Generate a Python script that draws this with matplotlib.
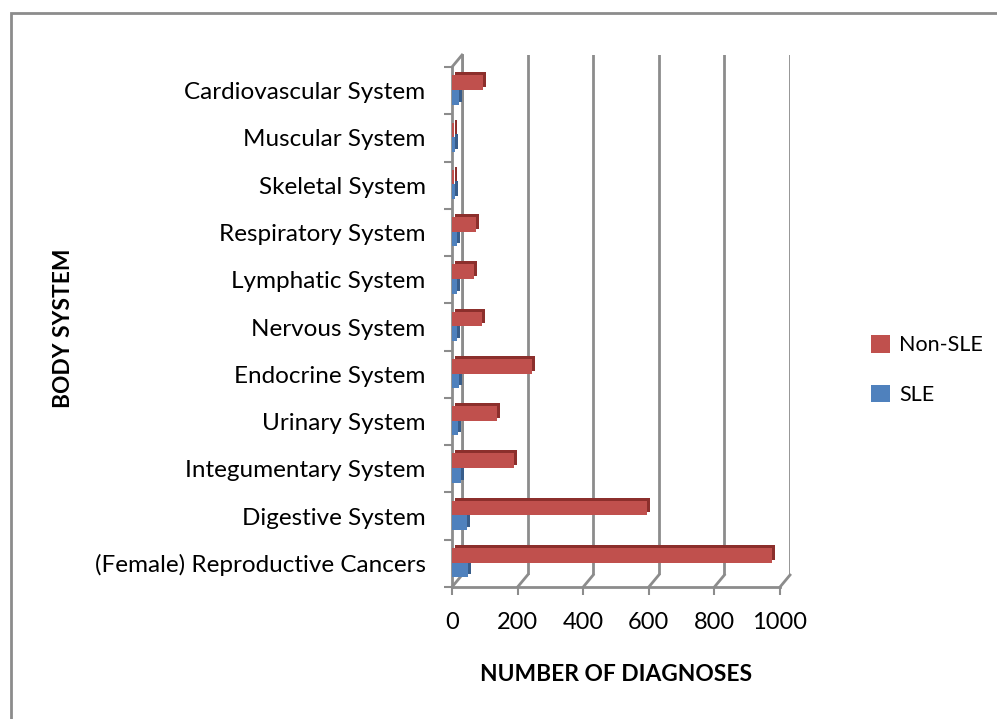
import matplotlib
matplotlib.use("Agg")
import matplotlib.pyplot as plt
import matplotlib.transforms as mtransforms
from matplotlib.patches import Rectangle
from matplotlib.lines import Line2D

categories = ["(Female) Reproductive Cancers", "Digestive System", "Integumentary System",
              "Urinary System", "Endocrine System", "Nervous System", "Lymphatic System",
              "Respiratory System", "Skeletal System", "Muscular System", "Cardiovascular System"]
non_sle = [975, 595, 190, 137, 244, 92, 67, 73, 5, 5, 95]
sle = [50, 45, 27, 18, 22, 15, 15, 15, 10, 10, 20]
xticks = [0, 200, 400, 600, 800, 1000]

FONT = "Lato"
W, H = 997, 719
fig = plt.figure(figsize=(W / 100, H / 100), dpi=100)

# outer chart border
fig.add_artist(Rectangle((11 / W, -0.05), 1.2, 1.05 - 13 / H, transform=fig.transFigure,
                         fill=False, ec="#8c8c8c", lw=2))

left, right, top, bottom = 452, 780, 67, 587
pos = [left / W, 1 - bottom / H, (right - left) / W, (bottom - top) / H]
dx, dy = 10, 12

# back wall with gridlines
axb = fig.add_axes([pos[0] + dx / W, pos[1] + dy / H, pos[2], pos[3]])
axb.set_xlim(0, 1000)
axb.set_ylim(0, 1)
for v in xticks:
    axb.axvline(v, color="#8c8c8c", lw=2)
for s in axb.spines.values():
    s.set_visible(False)
axb.set_xticks([]); axb.set_yticks([])
axb.patch.set_alpha(0)

ax = fig.add_axes(pos)
ax.patch.set_alpha(0)
n = len(categories)
ypos = list(range(n))
ax.set_xlim(0, 1000)
ax.set_ylim(-0.5, n - 0.5)

off = mtransforms.offset_copy(ax.transData, fig=fig, x=3, y=3, units="dots")
h = 0.31
y_red = [y + 0.17 for y in ypos]
y_blue = [y - 0.14 for y in ypos]
ax.barh(y_blue, sle, height=h, color="#385D8A", transform=off, zorder=2)
ax.barh(y_blue, sle, height=h, color="#4F81BD", zorder=3)
ax.barh(y_red, non_sle, height=h, color="#8C2F2C", transform=off, zorder=4)
ax.barh(y_red, non_sle, height=h, color="#C0504D", zorder=5, label="Non-SLE")
ax.bar([0], [0], color="#4F81BD", label="SLE")

ax.set_yticks([y - 0.5 for y in range(n + 1)], minor=False)
ax.set_yticklabels([])
ax.set_yticks(ypos, minor=True)
ax.set_yticklabels(categories, minor=True, fontsize=17.5, family=FONT)
ax.tick_params(axis="y", which="minor", length=0, pad=19)
ax.tick_params(axis="y", which="major", length=6, color="#8c8c8c", width=1.5)
ax.set_xticks(xticks)
ax.set_xticklabels([str(v) for v in xticks], fontsize=17, family=FONT)
ax.tick_params(axis="x", length=6, color="#8c8c8c", width=1.5, pad=12)
for s in ["top", "right"]:
    ax.spines[s].set_visible(False)
for s in ["left", "bottom"]:
    ax.spines[s].set_color("#8c8c8c")
    ax.spines[s].set_linewidth(2)

# depth lines connecting front axes to back wall
fig.canvas.draw()
inv = fig.transFigure.inverted()
def link(pt):
    a = pt
    b = (pt[0] + dx, pt[1] + dy)
    fa, fb = inv.transform(a), inv.transform(b)
    fig.add_artist(Line2D([fa[0], fb[0]], [fa[1], fb[1]], color="#8c8c8c", lw=2,
                          transform=fig.transFigure, zorder=-1))
for v in xticks:
    link(ax.transData.transform((v, -0.5)))
link(ax.transData.transform((0, n - 0.5)))
p0 = ax.transData.transform((0, -0.5)); p1 = ax.transData.transform((0, n - 0.5))
fa = inv.transform((p0[0] + dx, p0[1] + dy)); fb = inv.transform((p1[0] + dx, p1[1] + dy))
fig.add_artist(Line2D([fa[0], fb[0]], [fa[1], fb[1]], color="#8c8c8c", lw=2,
                      transform=fig.transFigure, zorder=-1))

ax.set_xlabel("NUMBER OF DIAGNOSES", fontsize=16.4, fontweight="bold", family=FONT, labelpad=22)
fig.text(63 / W, 1 - 328 / H, "BODY SYSTEM", rotation=90, fontsize=16.4, fontweight="bold",
         family=FONT, ha="center", va="center")

handles, labels = ax.get_legend_handles_labels()
fig.legend(handles, labels, loc="center left", bbox_to_anchor=(852 / W, 1 - 370 / H),
           frameon=False, prop={"family": FONT, "size": 15.5}, handlelength=0.85,
           handleheight=0.85, handletextpad=0.45, labelspacing=1.35)

fig.savefig("out.png", dpi=100)
